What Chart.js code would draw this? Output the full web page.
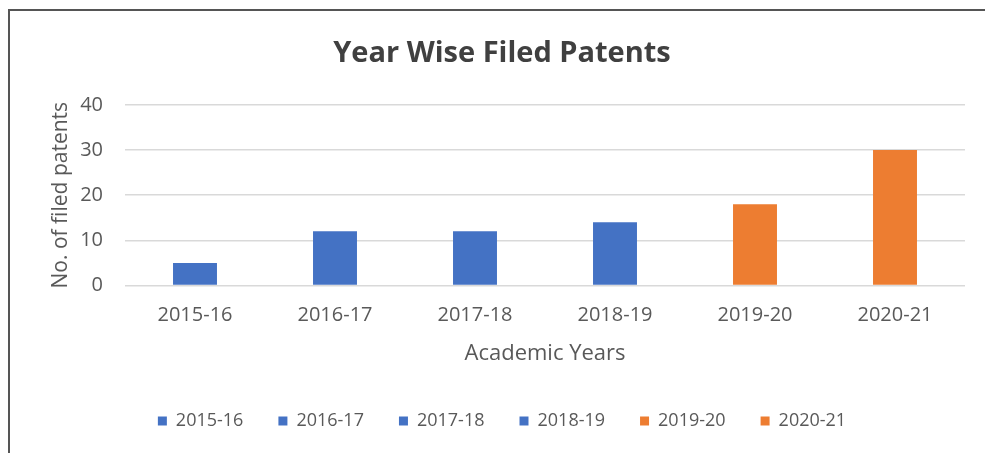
<!DOCTYPE html>
<html>
<head>
<meta charset="utf-8">
<script src="https://cdn.jsdelivr.net/npm/chart.js@4/dist/chart.umd.min.js"></script>
<style>
  html, body { margin: 0; padding: 0; background: #ffffff; }
  #wrap { position: relative; width: 985px; height: 453px; overflow: hidden; }
  #frame { position: absolute; left: 8px; top: 9px; width: 1000px; height: 500px; border: 2px solid #555555; box-sizing: border-box; }
  canvas { position: absolute; left: 0; top: 0; }
</style>
</head>
<body>
<div id="wrap">
  <div id="frame"></div>
  <canvas id="c" width="985" height="453"></canvas>
</div>
<script>
const chartTitle = "Year Wise Filed Patents";
const xAxisTitle = "Academic Years";
const yAxisTitle = "No. of filed patents";
const categories = ["2015-16", "2016-17", "2017-18", "2018-19", "2019-20", "2020-21"];
const patents = [5, 12, 12, 14, 18, 30];
const barColors = ["#4472C4", "#4472C4", "#4472C4", "#4472C4", "#ED7D31", "#ED7D31"];
const yTicks = [0, 10, 20, 30, 40];

const FONT = "'Open Sans', 'Liberation Sans', sans-serif";
const TXT = "#595959";

new Chart(document.getElementById("c"), {
  type: "bar",
  data: {
    labels: categories,
    datasets: [{
      label: "Filed patents",
      data: patents,
      backgroundColor: barColors,
      borderWidth: 0,
      categoryPercentage: 1.0,
      barPercentage: 0.314
    }]
  },
  options: {
    responsive: false,
    animation: false,
    devicePixelRatio: 1,
    layout: { padding: { top: 20, left: 39, right: 20, bottom: 13 } },
    plugins: {
      tooltip: { enabled: false },
      title: {
        display: true,
        text: chartTitle,
        color: "#404040",
        font: { family: FONT, size: 29, weight: "bold" },
        padding: { top: 16, bottom: 34 }
      },
      legend: {
        display: true,
        position: "bottom",
        labels: {
          color: TXT,
          font: { family: FONT, size: 18 },
          boxWidth: 9,
          boxHeight: 9,
          padding: 35,
          generateLabels: (chart) => categories.map((c, i) => ({
            text: c,
            fillStyle: barColors[i],
            strokeStyle: barColors[i],
            lineWidth: 0,
            fontColor: TXT,
            hidden: false,
            index: i
          }))
        }
      }
    },
    scales: {
      x: {
        grid: { display: false },
        border: { display: false },
        ticks: { color: TXT, font: { family: FONT, size: 20 }, padding: 10, maxRotation: 0 },
        title: {
          display: true,
          text: xAxisTitle,
          color: TXT,
          font: { family: FONT, size: 22 },
          padding: { top: 3, bottom: 10 }
        }
      },
      y: {
        min: 0,
        max: 40,
        afterFit: (s) => { s.width = 86; },
        afterBuildTicks: (s) => { s.ticks = yTicks.map(v => ({ value: v })); },
        grid: { color: "#d9d9d9", lineWidth: 1.5, drawTicks: false },
        border: { display: false },
        ticks: { color: TXT, font: { family: FONT, size: 20 }, padding: 22 },
        title: {
          display: true,
          text: yAxisTitle,
          color: TXT,
          font: { family: FONT, size: 21 },
          padding: { top: 9, bottom: 0 }
        }
      }
    }
  }
});
</script>
</body>
</html>
